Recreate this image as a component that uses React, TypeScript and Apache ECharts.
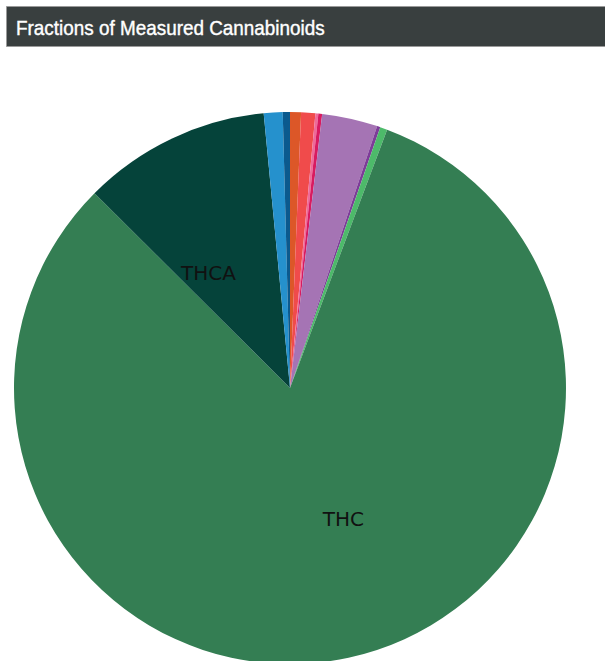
import React, { useEffect, useRef } from "react";
import * as echarts from "echarts";

const names = ["CBD", "CBDA", "CBN", "CBDV", "CBG", "CBGA", "CBC", "THC", "THCA", "THCV", "Δ8-THC"];
const values = [0.64, 0.83, 0.17, 0.22, 3.25, 0.19, 0.42, 81.7, 11.0, 1.1, 0.42];
const colors = ["#dc5728", "#f04b4b", "#ee6a9a", "#d81b60", "#a574b4", "#7d3c98", "#4dba6a", "#347e53", "#05433a", "#2591cd", "#0b5a8e"];
const labelled = ["THC", "THCA"];
const title = "Fractions of Measured Cannabinoids";

export default function App() {
  const ref = useRef<HTMLDivElement>(null);
  useEffect(() => {
    if (!ref.current) return;
    const chart = echarts.init(ref.current, null, { renderer: "svg" });
    const data = names.map((n, i) => ({ name: n, value: values[i], itemStyle: { color: colors[i] } }));
    chart.setOption({
      animation: false,
      graphic: [
        {
          type: "rect",
          shape: { x: 6.5, y: 6.5, width: 610, height: 40 },
          style: { fill: "#393f3f", stroke: "#9a9a9a", lineWidth: 1 },
          silent: true,
        },
        {
          type: "text",
          x: 16,
          y: 28,
          scaleX: 0.9,
          style: {
            text: title,
            fill: "#ffffff",
            stroke: "#ffffff",
            lineWidth: 0.4,
            font: "21px 'Liberation Sans', Arial, sans-serif",
            textVerticalAlign: "middle",
          },
          silent: true,
        },
      ],
      series: [
        {
          type: "pie",
          center: [290, 388],
          radius: 276,
          startAngle: 90,
          clockwise: true,
          avoidLabelOverlap: false,
          label: { show: false },
          labelLine: { show: false },
          emphasis: { disabled: true },
          itemStyle: { borderWidth: 0 },
          data,
        },
        {
          type: "pie",
          center: [290, 388],
          radius: 276,
          startAngle: 100,
          clockwise: true,
          silent: true,
          avoidLabelOverlap: false,
          labelLine: { show: false },
          emphasis: { disabled: true },
          itemStyle: { color: "transparent", borderWidth: 0 },
          label: {
            show: true,
            position: "inside",
            formatter: (p: any) => (labelled.includes(p.name) ? p.name : ""),
            color: "#111111",
            fontFamily: "'DejaVu Sans', sans-serif",
            fontSize: 20,
          },
          data: names.map((n, i) => ({ name: n, value: values[i] })),
        },
      ],
    });
    return () => chart.dispose();
  }, []);
  return <div ref={ref} style={{ position: "fixed", left: 0, top: 0, width: 605, height: 661, background: "#fff" }} />;
}
